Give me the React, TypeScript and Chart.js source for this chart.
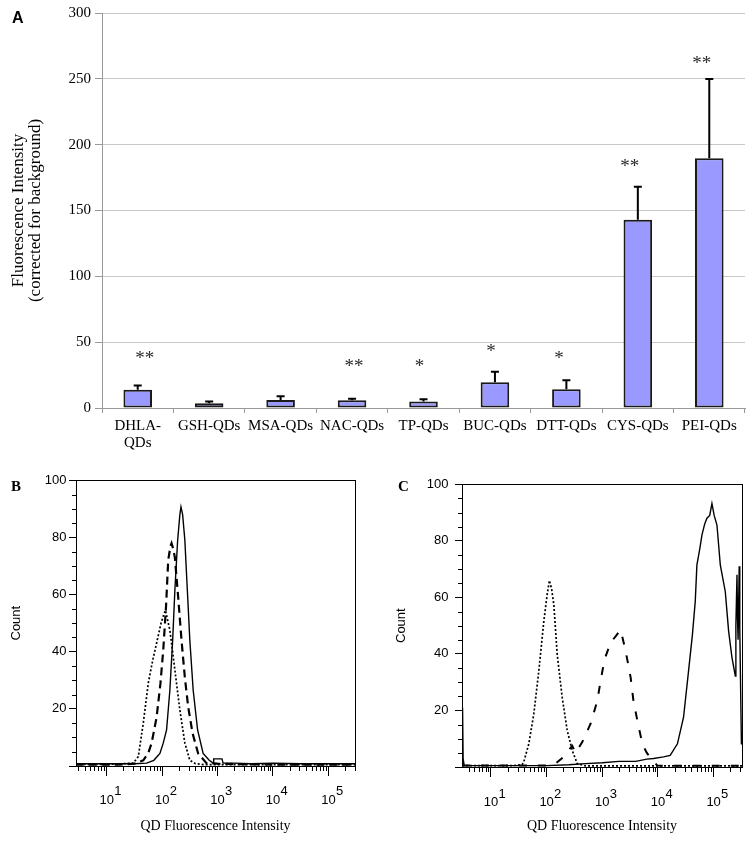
import React, { useEffect, useRef } from 'react';
import { Chart, registerables } from 'chart.js';

Chart.register(...registerables);

const SERIF = "'Liberation Serif', 'Times New Roman', serif";
const SANS = "'Liberation Sans', Arial, sans-serif";

// ---------------- Panel A data ----------------
const categoriesA: (string | string[])[] = [['DHLA-', 'QDs'], 'GSH-QDs', 'MSA-QDs', 'NAC-QDs', 'TP-QDs', 'BUC-QDs', 'DTT-QDs', 'CYS-QDs', 'PEI-QDs'];
const meanFluorescence = [13.9, 3.6, 6.0, 5.8, 5.0, 19.5, 14.2, 142.9, 189.7];
const errorUpper = [17.0, 5.0, 9.0, 7.0, 6.6, 27.6, 21.0, 168.0, 249.8];
const significanceMarks = ['**', '', '', '**', '*', '*', '*', '**', '**'];
const significanceLevel = [40, 0, 0, 34, 34, 45.5, 40, 186, 264];
const yTickValuesA = [0, 50, 100, 150, 200, 250, 300];

// ---------------- Panels B & C data (x = log10 intensity, y = count) ----------------
const decadeTicks = [1, 2, 3, 4, 5];
const countTicks = [0, 20, 40, 60, 80, 100];

const bDottedX = [0.44, 1.0, 1.3, 1.48, 1.57, 1.66, 1.75, 1.83, 1.9, 1.98, 2.03, 2.06, 2.1, 2.14, 2.23, 2.32, 2.41, 2.5, 2.6, 2.75, 3.0, 3.5, 4.0, 4.5, 5.0, 5.49];
const bDottedY = [0.6, 0.6, 0.8, 1, 3.3, 15, 29, 37, 43, 50, 53, 54.5, 51, 47.5, 33.6, 19.6, 8, 2, 0.8, 0.5, 0.5, 0.5, 0.5, 0.5, 0.5, 0.5];

const bDashedX = [0.44, 1.2, 1.5, 1.66, 1.75, 1.81, 1.9, 1.97, 2.02, 2.07, 2.11, 2.15, 2.17, 2.2, 2.23, 2.29, 2.35, 2.41, 2.47, 2.55, 2.65, 2.8, 3.0, 3.5, 4.0, 4.5, 5.0, 5.49];
const bDashedY = [0.5, 0.5, 0.8, 2, 4.5, 8, 17, 29, 40.5, 55.7, 72, 77, 78, 76, 73, 59, 44, 31, 20.7, 11.4, 4.4, 1, 0.8, 0.6, 0.5, 0.5, 0.5, 0.5];

const bSolidX = [0.44, 1.0, 1.5, 1.72, 1.85, 1.96, 2.02, 2.08, 2.14, 2.19, 2.23, 2.28, 2.32, 2.34, 2.37, 2.41, 2.455, 2.5, 2.56, 2.64, 2.74, 2.85, 2.92, 2.93, 2.95, 3.08, 3.1, 3.3, 3.6, 4.0, 4.5, 5.0, 5.49];
const bSolidY = [0.8, 0.8, 0.8, 1, 2, 4.4, 8, 12.6, 26.6, 44, 61.5, 79, 88, 90.7, 88, 79, 61.5, 44, 26.6, 12.6, 4.4, 2, 1, 2.5, 2.5, 2.5, 1, 1, 0.8, 1, 0.8, 0.8, 0.8];

const cDottedX = [0.48, 1.0, 1.4, 1.56, 1.59, 1.68, 1.77, 1.86, 1.95, 2.01, 2.05, 2.09, 2.13, 2.19, 2.28, 2.37, 2.46, 2.55, 2.7, 3.0, 3.5, 4.0, 4.5, 5.0, 5.51];
const cDottedY = [0.5, 0.5, 0.5, 0.8, 1.8, 8.2, 18.8, 34, 51.6, 61, 66, 63, 57.4, 39.9, 24.6, 12.9, 5.9, 1.2, 0.4, 0.4, 0.4, 0.4, 0.4, 0.4, 0.4];

const cDashedX = [0.48, 1.5, 2.0, 2.16, 2.3, 2.4, 2.46, 2.52, 2.64, 2.79, 2.91, 2.97, 3.04, 3.15, 3.25, 3.33, 3.42, 3.51, 3.56, 3.63, 3.72, 3.8, 3.9, 3.99, 4.2, 4.6, 5.0, 5.51];
const cDashedY = [0.5, 0.5, 0.5, 1.2, 3.5, 6, 7.5, 5, 8.8, 15.3, 23.4, 30.5, 38, 44, 46.5, 48.5, 41, 31.6, 23.4, 16.4, 8.2, 5, 2.4, 0.5, 0.4, 0.4, 0.4, 0.4];

const cSolidX = [0.485, 0.49, 0.5, 0.52, 1.0, 1.5, 2.0, 2.4, 2.7, 3.0, 3.3, 3.6, 3.8, 3.92, 4.1, 4.22, 4.35, 4.46, 4.55, 4.62, 4.67, 4.7, 4.75, 4.79, 4.84, 4.88, 4.93, 4.97, 5.01, 5.06, 5.12, 5.21, 5.27, 5.33, 5.39, 5.4, 5.42, 5.43, 5.44, 5.46, 5.47, 5.49, 5.5];
const cSolidY = [0.5, 21, 3, 0.5, 0.5, 0.5, 0.5, 0.8, 1.2, 1.5, 2, 2, 2.8, 3, 3.6, 4.1, 8.2, 17.6, 34, 46.9, 58.6, 71.5, 77, 82, 86, 88, 89, 93.2, 89, 85.6, 71.5, 62, 48, 38.7, 32.2, 50, 68, 52, 45, 71, 49, 21, 8];

// ---------------- plugins ----------------
const errorBarsPlugin = {
  id: 'errorBars',
  afterDatasetsDraw(chart: any, _args: any, opts: any) {
    const { ctx } = chart;
    const ys = chart.scales.y;
    const meta = chart.getDatasetMeta(0);
    ctx.save();
    ctx.strokeStyle = '#000';
    ctx.lineWidth = 2;
    meta.data.forEach((bar: any, i: number) => {
      const x = bar.x;
      const yb = ys.getPixelForValue(meanFluorescence[i]);
      const yt = ys.getPixelForValue(errorUpper[i]);
      ctx.beginPath();
      ctx.moveTo(x, yb);
      ctx.lineTo(x, yt);
      ctx.moveTo(x - 4, yt);
      ctx.lineTo(x + 4, yt);
      ctx.stroke();
      const mark = significanceMarks[i];
      if (mark) {
        ctx.font = `19px ${SERIF}`;
        ctx.fillStyle = '#2a2a2a';
        ctx.textAlign = 'center';
        ctx.textBaseline = 'alphabetic';
        const nudge = (opts.nudge && opts.nudge[i]) || 0;
        ctx.fillText(mark, x + nudge, ys.getPixelForValue(significanceLevel[i]) + 9);
      }
    });
    ctx.restore();
  },
};

const flowAxesPlugin = {
  id: 'flowAxes',
  afterDraw(chart: any, _args: any, opts: any) {
    const { ctx, chartArea: a } = chart;
    const x = chart.scales.x;
    const y = chart.scales.y;
    ctx.save();
    ctx.strokeStyle = '#000';
    ctx.lineWidth = 1;
    ctx.strokeRect(Math.round(a.left) + 0.5, Math.round(a.top) + 0.5, Math.round(a.right - a.left), Math.round(a.bottom - a.top));
    ctx.beginPath();
    for (let v = 5; v < 100; v += 5) {
      if (v % 20 === 0) continue;
      const py = Math.round(y.getPixelForValue(v)) + 0.5;
      ctx.moveTo(a.left - 4, py);
      ctx.lineTo(a.left, py);
    }
    for (let k = 0; k <= 5; k++) {
      for (let m = 2; m <= 9; m++) {
        const v = k + Math.log10(m);
        if (v < x.min || v > x.max) continue;
        const px = Math.round(x.getPixelForValue(v)) + 0.5;
        ctx.moveTo(px, a.bottom);
        ctx.lineTo(px, a.bottom + 5);
      }
    }
    ctx.stroke();
    ctx.fillStyle = '#000';
    ctx.font = `13px ${SANS}`;
    ctx.textBaseline = 'middle';
    decadeTicks.forEach((e) => {
      const px = x.getPixelForValue(e);
      ctx.textAlign = 'center';
      ctx.fillText('10', px, opts.baseY);
      ctx.textAlign = 'left';
      ctx.fillText(String(e), px + 7.5, opts.expY);
    });
    ctx.restore();
  },
};

// ---------------- configs ----------------
function barConfig(): any {
  return {
    type: 'bar',
    data: {
      labels: categoriesA,
      datasets: [
        {
          data: meanFluorescence,
          backgroundColor: '#9999ff',
          borderColor: '#1a1a1a',
          borderWidth: 2,
          borderSkipped: false,
          barPercentage: 0.4,
          categoryPercentage: 1,
        },
      ],
    },
    options: {
      responsive: false,
      animation: false,
      devicePixelRatio: 1,
      layout: { padding: { left: 0, top: 13, right: 8, bottom: 0 } },
      plugins: {
        legend: { display: false },
        tooltip: { enabled: false },
        errorBars: { nudge: [7, 0, 0, 2, -4, -4, -7.5, -8, -7.5] },
      },
      scales: {
        x: {
          grid: { offset: true, drawOnChartArea: false, tickLength: 5, color: '#999' },
          border: { color: '#999' },
          ticks: { autoSkip: false, maxRotation: 0, padding: 5, color: '#000', font: { family: SERIF, size: 15, lineHeight: 1.1 } },
          afterFit: (s: any) => { s.height = 57; },
        },
        y: {
          min: 0,
          max: 300,
          afterBuildTicks: (s: any) => { s.ticks = yTickValuesA.map((v) => ({ value: v })); },
          grid: { color: '#c8c8c8', tickLength: 7, tickColor: '#999' },
          border: { color: '#999' },
          ticks: { padding: 4, color: '#000', font: { family: SERIF, size: 15 } },
          title: {
            display: true,
            text: ['Fluorescence Intensity', '(corrected for background)'],
            color: '#000',
            font: { family: SERIF, size: 17, lineHeight: 1.03 },
            padding: { top: 9.5, bottom: 0 },
          },
          afterFit: (s: any) => { s.width = 102; },
        },
      },
    },
    plugins: [errorBarsPlugin],
  };
}

interface FlowLayout {
  w: number; h: number;
  area: { left: number; top: number; right: number; bottom: number };
  xMin: number; xMax: number;
  yPad: number; countPad: number;
  baseY: number; expY: number;
  dash: number[];
  dashWidth: number;
}

function pts(xs: number[], ys: number[]) {
  return xs.map((x, i) => ({ x, y: ys[i] }));
}

function flowConfig(curves: { xs: number[]; ys: number[]; kind: string }[], p: FlowLayout): any {
  return {
    type: 'line',
    data: {
      datasets: curves.map((c) => ({
        data: pts(c.xs, c.ys),
        borderColor: '#000',
        borderWidth: c.kind === 'solid' ? 1.4 : c.kind === 'dashed' ? p.dashWidth : 1.7,
        borderDash: c.kind === 'solid' ? [] : c.kind === 'dashed' ? p.dash : [2, 2],
        pointRadius: 0,
        tension: 0,
        fill: false,
      })),
    },
    options: {
      responsive: false,
      animation: false,
      devicePixelRatio: 1,
      layout: { padding: { left: 0, top: p.area.top, right: p.w - p.area.right, bottom: 0 } },
      plugins: {
        legend: { display: false },
        tooltip: { enabled: false },
        flowAxes: { baseY: p.baseY, expY: p.expY },
      },
      scales: {
        x: {
          type: 'linear',
          min: p.xMin,
          max: p.xMax,
          afterBuildTicks: (s: any) => { s.ticks = decadeTicks.map((v) => ({ value: v })); },
          ticks: { display: false },
          grid: { drawOnChartArea: false, tickLength: 10, color: '#000' },
          border: { color: '#000' },
          title: {
            display: true,
            text: 'QD Fluorescence Intensity',
            color: '#000',
            font: { family: SERIF, size: 14 },
            padding: { top: 0, bottom: 7 },
          },
          afterFit: (s: any) => { s.height = p.h - p.area.bottom; },
        },
        y: {
          min: 0,
          max: 100,
          afterBuildTicks: (s: any) => { s.ticks = countTicks.map((v) => ({ value: v })); },
          ticks: {
            callback: (v: any) => (v === 0 ? '' : String(v)),
            padding: p.yPad,
            color: '#000',
            font: { family: SANS, size: 13 },
          },
          grid: { drawOnChartArea: false, tickLength: 7, color: '#000' },
          border: { color: '#000' },
          title: {
            display: true,
            text: 'Count',
            color: '#000',
            font: { family: SANS, size: 13 },
            padding: { top: p.countPad, bottom: 0 },
          },
          afterFit: (s: any) => { s.width = p.area.left; },
        },
      },
    },
    plugins: [flowAxesPlugin],
  };
}

const layoutB: FlowLayout = {
  w: 376, h: 372,
  area: { left: 76, top: 10, right: 355, bottom: 296 },
  xMin: 0.446, xMax: 5.48,
  yPad: 2.5, countPad: 9,
  baseY: 330.5, expY: 321,
  dash: [8, 5], dashWidth: 2.2,
};

const layoutC: FlowLayout = {
  w: 377, h: 372,
  area: { left: 86, top: 12, right: 366, bottom: 297 },
  xMin: 0.48, xMax: 5.51,
  yPad: 6.5, countPad: 18,
  baseY: 332.5, expY: 324,
  dash: [8, 11], dashWidth: 2,
};

function ChartCanvas({ build, left, top, w, h }: { build: () => any; left: number; top: number; w: number; h: number }) {
  const ref = useRef<HTMLCanvasElement | null>(null);
  useEffect(() => {
    if (!ref.current) return;
    const chart = new Chart(ref.current, build());
    return () => chart.destroy();
  }, []);
  return (
    <canvas
      ref={ref}
      width={w}
      height={h}
      style={{ position: 'absolute', left, top, width: w, height: h }}
    />
  );
}

const letterStyle = (left: number, top: number, family: string, size: number): React.CSSProperties => ({
  position: 'absolute',
  left,
  top,
  fontFamily: family,
  fontWeight: 'bold',
  fontSize: size,
  lineHeight: `${size}px`,
  color: '#000',
});

export default function App() {
  return (
    <div style={{ position: 'absolute', left: 0, top: 0, width: 753, height: 842, background: '#fff', overflow: 'hidden' }}>
      <ChartCanvas build={barConfig} left={0} top={0} w={753} h={465} />
      <ChartCanvas
        build={() =>
          flowConfig(
            [
              { xs: bDottedX, ys: bDottedY, kind: 'dotted' },
              { xs: bDashedX, ys: bDashedY, kind: 'dashed' },
              { xs: bSolidX, ys: bSolidY, kind: 'solid' },
            ],
            layoutB
          )
        }
        left={0}
        top={470}
        w={376}
        h={372}
      />
      <ChartCanvas
        build={() =>
          flowConfig(
            [
              { xs: cDottedX, ys: cDottedY, kind: 'dotted' },
              { xs: cDashedX, ys: cDashedY, kind: 'dashed' },
              { xs: cSolidX, ys: cSolidY, kind: 'solid' },
            ],
            layoutC
          )
        }
        left={376}
        top={470}
        w={377}
        h={372}
      />
      <div style={letterStyle(12, 10, SANS, 16)}>A</div>
      <div style={letterStyle(11, 479, SERIF, 15)}>B</div>
      <div style={letterStyle(398, 479, SERIF, 15)}>C</div>
    </div>
  );
}
